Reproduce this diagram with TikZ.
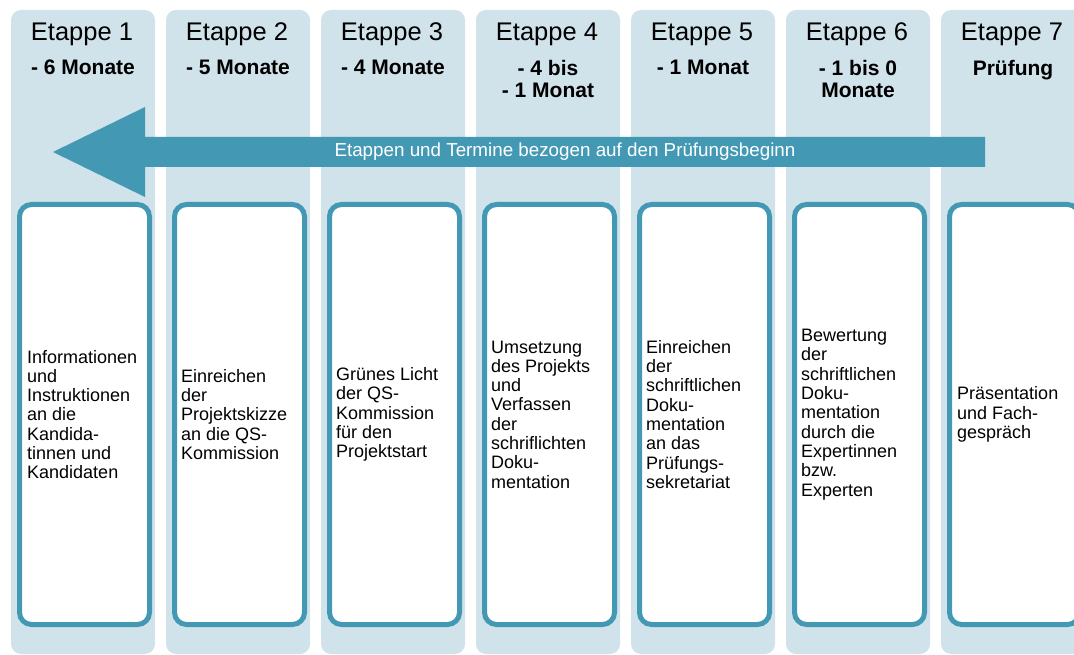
\documentclass[tikz,border=0pt]{standalone}
\usepackage{fontspec}
\setmainfont{Liberation Sans}
\usepackage{tikz}
\definecolor{hellblau}{rgb}{0.816,0.886,0.918}
\definecolor{petrol}{rgb}{0.263,0.600,0.706}
\tikzset{
  spalte/.style={fill=hellblau,draw=none,rounded corners=10pt},
  kasten/.style={fill=white,draw=petrol,line width=5pt,rounded corners=12pt},
  kopf/.style={anchor=base,inner sep=0pt,font=\fontsize{25.5}{28}\selectfont},
  frist/.style={anchor=north,inner sep=0pt,align=center,font=\fontsize{21}{22}\selectfont\bfseries},
  inhalt/.style={anchor=west,inner sep=0pt,align=left,font=\fontsize{18}{19.3}\selectfont}
}
\begin{document}
\begin{tikzpicture}[x=1pt,y=-1pt,line join=round]
\useasboundingbox (0,0) rectangle (1074,655);
\clip (0,0) rectangle (1074,655);
% Spalten
\fill [spalte] (11,10) rectangle (155,654);
\fill [spalte] (166,10) rectangle (310,654);
\fill [spalte] (321,10) rectangle (465,654);
\fill [spalte] (476,10) rectangle (620,654);
\fill [spalte] (631,10) rectangle (775,654);
\fill [spalte] (786,10) rectangle (930,654);
\fill [spalte] (941,10) rectangle (1085,654);
% Kaesten
\draw [kasten] (19.5,204.5) rectangle (149.5,624.5);
\draw [kasten] (174.5,204.5) rectangle (304.5,624.5);
\draw [kasten] (329.5,204.5) rectangle (459.5,624.5);
\draw [kasten] (484.5,204.5) rectangle (614.5,624.5);
\draw [kasten] (639.5,204.5) rectangle (769.5,624.5);
\draw [kasten] (794.5,204.5) rectangle (924.5,624.5);
\draw [kasten] (949.5,204.5) rectangle (1079.5,624.5);
% Pfeil
\fill [petrol] (985,137) -- (145,137) -- (145,107) -- (53,152) -- (145,197) -- (145,167) -- (985,167) -- cycle;
\node [white,inner sep=0pt,font=\fontsize{18.8}{20}\selectfont] (pfeiltext) at (565,152) {Etappen und Termine bezogen auf den Prüfungsbeginn};
% Etappen
\node [kopf] (e1) at (82,41) {Etappe 1};
\node [kopf] (e2) at (237,41) {Etappe 2};
\node [kopf] (e3) at (392,41) {Etappe 3};
\node [kopf] (e4) at (547,41) {Etappe 4};
\node [kopf] (e5) at (702,41) {Etappe 5};
\node [kopf] (e6) at (857,41) {Etappe 6};
\node [kopf] (e7) at (1012,41) {Etappe 7};
\node [frist] (f1) at (83,60) {- 6 Monate};
\node [frist] (f2) at (238,60) {- 5 Monate};
\node [frist] (f3) at (393,60) {- 4 Monate};
\node [frist] (f4) at (548,60) {- 4 bis\\- 1 Monat};
\node [frist] (f5) at (703,60) {- 1 Monat};
\node [frist] (f6) at (858,60) {- 1 bis 0\\Monate};
\node [frist] (f7) at (1013,60) {Prüfung};
% Inhalte
\node [inhalt] (t1) at (27,414.5) {Informationen\\und\\Instruktionen\\an die\\Kandida-\\tinnen und\\Kandidaten};
\node [inhalt] (t2) at (181,414.5) {Einreichen\\der\\Projektskizze\\an die QS-\\Kommission};
\node [inhalt] (t3) at (336,414.5) {Grünes Licht\\der QS-\\Kommission\\für den\\Projektstart};
\node [inhalt] (t4) at (491,414.5) {Umsetzung\\des Projekts\\und\\Verfassen\\der\\schriflichten\\Doku-\\mentation};
\node [inhalt] (t5) at (646,414.5) {Einreichen\\der\\schriftlichen\\Doku-\\mentation\\an das\\Prüfungs-\\sekretariat};
\node [inhalt] (t6) at (801,414.5) {Bewertung\\der\\schriftlichen\\Doku-\\mentation\\durch die\\Expertinnen\\bzw.\\Experten};
\node [inhalt] (t7) at (957,414.5) {Präsentation\\und Fach-\\gespräch};
\end{tikzpicture}
\end{document}
